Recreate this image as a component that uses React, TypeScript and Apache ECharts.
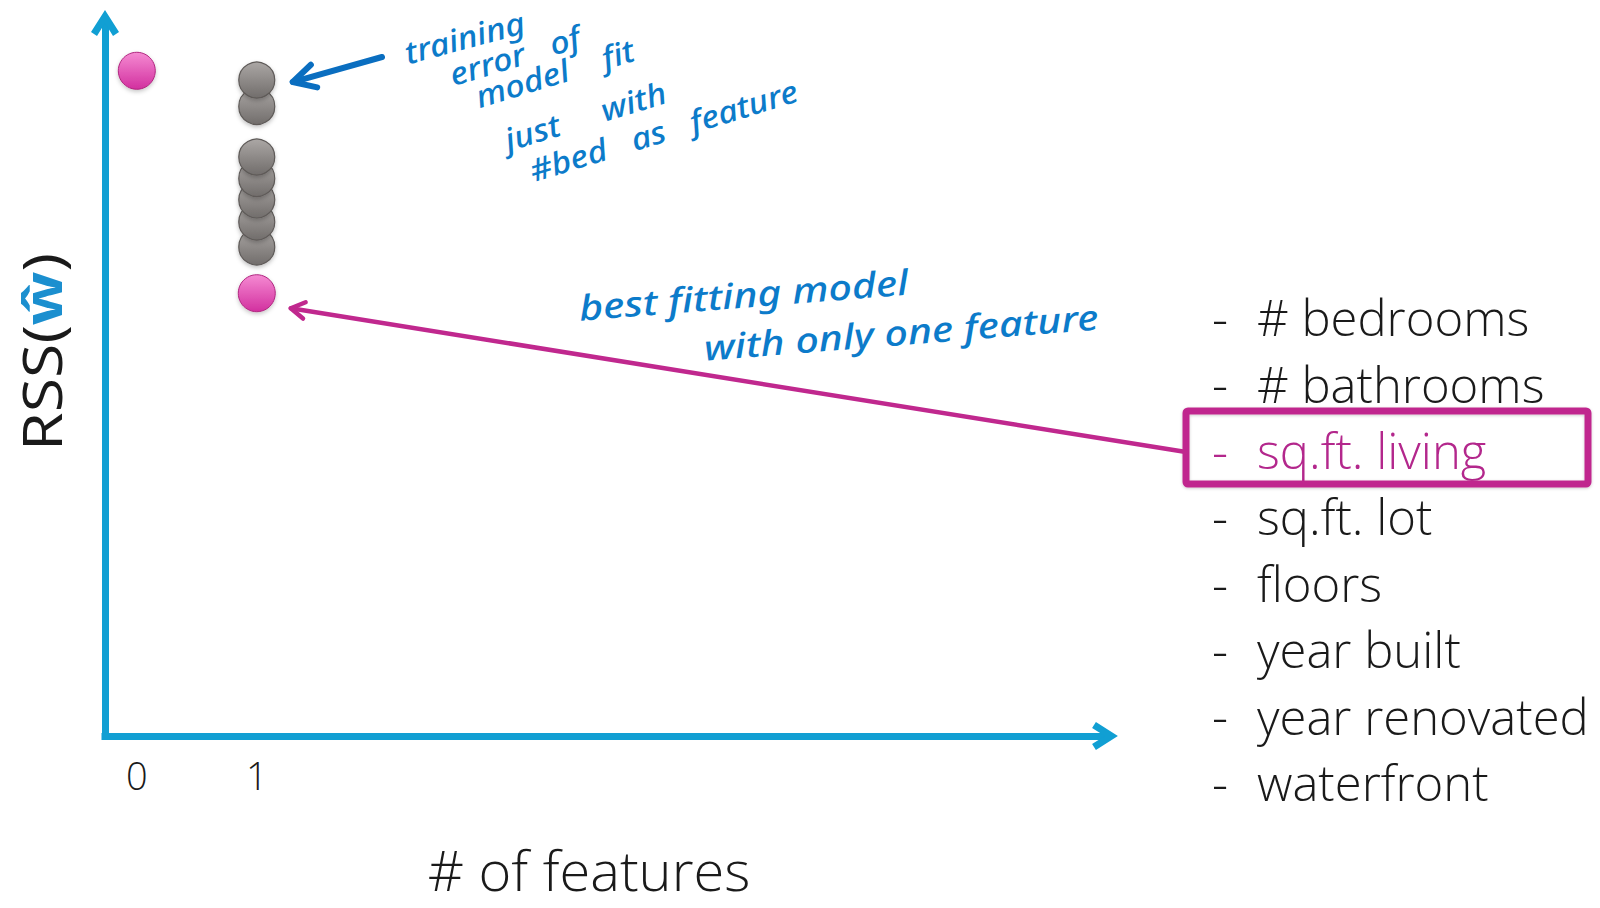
import React, { useEffect, useRef } from 'react';
import * as echarts from 'echarts';

// ---------- data ----------
const featureNames = ['# bedrooms', '# bathrooms', 'sq.ft. living', 'sq.ft. lot', 'floors', 'year built', 'year renovated', 'waterfront'];
const bestFeatureIndex = 2;
const xTickValues = [0, 1];
const xAxisTitle = '# of features';
// RSS (arbitrary units, 0..100) of the model with no feature
const rssNoFeature = [93.3];
// RSS of the one-feature models that are not the best (drawn from low to high)
const rssOneFeatureOthers = [68.6, 72.1, 75.2, 78.2, 81.2, 88.3, 92.0];
// RSS of the best one-feature model
const rssOneFeatureBest = [62.1];
const noteTrainingLines = ['training', 'error   of', 'model    fit', 'just     with', '#bed   as   feature'];
const noteBestLines = ['best fitting model', 'with only one feature'];

// ---------- style ----------
const FONT = '"Open Sans", "Noto Sans", sans-serif';
const HAND = '"Noto Sans", "DejaVu Sans", sans-serif';
const AXIS_COLOR = '#119FD3';
const MAGENTA = '#C0288E';
const MAGENTA_TEXT = '#B3278C';
const HAND_BLUE = '#0C7BCA';
const ARROW_BLUE = '#0A6EC0';
const CHEVRON = 'path://M14 0 L28 22 L22 25.8 L14 13 L6 25.8 L0 22 Z';

const pinkFill = new echarts.graphic.LinearGradient(0, 0, 0, 1, [
  { offset: 0, color: '#F58AD2' },
  { offset: 1, color: '#D2309F' },
]);
const grayFill = new echarts.graphic.LinearGradient(0, 0, 0, 1, [
  { offset: 0, color: '#ABA7A5' },
  { offset: 1, color: '#716D6B' },
]);

function arrowHead(tip: number[], tail: number[], len: number, halfDeg: number) {
  const ang = Math.atan2(tail[1] - tip[1], tail[0] - tip[0]);
  const a = (halfDeg * Math.PI) / 180;
  return [
    [tip[0] + len * Math.cos(ang - a), tip[1] + len * Math.sin(ang - a)],
    [tip[0], tip[1]],
    [tip[0] + len * Math.cos(ang + a), tip[1] + len * Math.sin(ang + a)],
  ];
}

function txt(text: string, x: number, y: number, extra: any = {}, style: any = {}) {
  const align = style.align || 'left';
  const vAlign = style.verticalAlign || 'middle';
  return {
    type: 'text',
    x,
    y,
    ...extra,
    style: {
      text,
      align,
      verticalAlign: vAlign,
      textAlign: align,
      textVerticalAlign: vAlign,
      ...style,
    },
  };
}

export default function App() {
  const ref = useRef<HTMLDivElement>(null);

  useEffect(() => {
    if (!ref.current) return;
    const chart = echarts.init(ref.current, null, { renderer: 'svg' });

    const axisLineBase = {
      show: true,
      onZero: false,
      symbol: ['none', CHEVRON],
      symbolSize: [28, 26],
      lineStyle: { color: AXIS_COLOR, width: 7, cap: 'square' },
    };

    chart.setOption({
      animation: false,
      backgroundColor: '#ffffff',
      textStyle: { fontFamily: FONT },
      grid: { left: 105, right: 495, top: 23, bottom: 172, outerBoundsMode: 'none', containLabel: false },
      xAxis: {
        type: 'value',
        min: -0.265,
        max: 8.07,
        axisLine: axisLineBase,
        axisTick: { show: false },
        splitLine: { show: false },
        axisLabel: {
          show: true,
          customValues: xTickValues,
          margin: 20,
          fontSize: 38,
          fontWeight: 300,
          fontFamily: FONT,
          color: '#1a1a1a',
        },
      },
      yAxis: {
        type: 'value',
        min: 0,
        max: 100,
        axisLine: axisLineBase,
        axisTick: { show: false },
        splitLine: { show: false },
        axisLabel: { show: false },
      },
      series: [
        {
          type: 'scatter',
          name: 'other one-feature models',
          symbol: 'circle',
          symbolSize: 36,
          itemStyle: {
            color: grayFill,
            borderColor: '#5E5A58',
            borderWidth: 1.2,
            shadowBlur: 4,
            shadowOffsetY: 2,
            shadowColor: 'rgba(0,0,0,0.25)',
            opacity: 1,
          },
          data: rssOneFeatureOthers.map((v) => [1, v]),
        },
        {
          type: 'scatter',
          name: 'no feature / best one-feature model',
          symbol: 'circle',
          symbolSize: 37,
          itemStyle: {
            color: pinkFill,
            borderColor: '#B0267F',
            borderWidth: 1,
            shadowBlur: 4,
            shadowOffsetY: 2,
            shadowColor: 'rgba(0,0,0,0.22)',
            opacity: 1,
          },
          data: [...rssNoFeature.map((v) => [0, v]), ...rssOneFeatureBest.map((v) => [1, v])],
        },
      ],
    });

    // positions of data points, through the chart's own scales
    const topGray = chart.convertToPixel({ gridIndex: 0 }, [1, Math.max(...rssOneFeatureOthers)]) as number[];
    const bestPt = chart.convertToPixel({ gridIndex: 0 }, [1, rssOneFeatureBest[0]]) as number[];

    const blueTip = [topGray[0] + 36, topGray[1] + 2];
    const blueTail = [382, 57];
    const magTip = [bestPt[0] + 34, bestPt[1] + 15];
    const magTail = [1186, 452];

    const graphics: any[] = [];

    // y axis title
    graphics.push({
      type: 'text',
      x: 41,
      y: 352,
      rotation: Math.PI / 2,
      scaleX: 1.16,
      style: {
        text: '{a|RSS(}{b|ŵ}{a|)}',
        align: 'center',
        verticalAlign: 'middle',
        textAlign: 'center',
        textVerticalAlign: 'middle',
        rich: {
          a: { fontSize: 54, fontFamily: FONT, fontWeight: 400, fill: '#1a1a1a', color: '#1a1a1a' },
          b: { fontSize: 54, fontFamily: FONT, fontWeight: 700, fill: '#1B8FCF', color: '#1B8FCF' },
        },
      },
    });

    // x axis title
    graphics.push(
      txt(xAxisTitle, 589, 869, { scaleX: 1.0 }, { align: 'center', fontSize: 56, fontFamily: FONT, fontWeight: 300, fill: '#1a1a1a' })
    );

    // feature list
    const listTop = 317;
    const listStep = 66.4;
    featureNames.forEach((name, i) => {
      const y = listTop + i * listStep;
      const color = i === bestFeatureIndex ? MAGENTA_TEXT : '#1a1a1a';
      graphics.push(txt('-', 1220, y, {}, { align: 'center', fontSize: 50, fontFamily: FONT, fontWeight: 300, fill: color }));
      graphics.push(txt(name, 1257, y, { scaleX: 0.98 }, { fontSize: 50, fontFamily: FONT, fontWeight: 300, fill: color }));
    });

    // highlight box
    graphics.push({
      type: 'rect',
      shape: { x: 1186, y: 411, width: 402, height: 73, r: 2 },
      style: {
        fill: 'none',
        stroke: MAGENTA,
        lineWidth: 7,
        shadowBlur: 3,
        shadowOffsetY: 1,
        shadowColor: 'rgba(0,0,0,0.2)',
      },
    });

    // magenta arrow
    graphics.push({
      type: 'line',
      shape: { x1: magTail[0], y1: magTail[1], x2: magTip[0], y2: magTip[1] },
      style: { stroke: MAGENTA, lineWidth: 4.5, lineCap: 'round' },
    });
    graphics.push({
      type: 'polyline',
      shape: { points: arrowHead(magTip, magTail, 16, 31) },
      style: { stroke: MAGENTA, lineWidth: 4.5, lineCap: 'round', lineJoin: 'round', fill: 'none' },
    });

    // blue arrow
    graphics.push({
      type: 'line',
      shape: { x1: blueTail[0], y1: blueTail[1], x2: blueTip[0], y2: blueTip[1] },
      style: { stroke: ARROW_BLUE, lineWidth: 6, lineCap: 'round' },
    });
    graphics.push({
      type: 'polyline',
      shape: { points: arrowHead(blueTip, blueTail, 25, 28) },
      style: { stroke: ARROW_BLUE, lineWidth: 6, lineCap: 'round', lineJoin: 'round', fill: 'none' },
    });

    // handwritten note 1
    const note1Pos = [
      [405, 53],
      [450, 75],
      [476, 97],
      [505, 140],
      [530, 171],
    ];
    const note1Rot = [15, 17, 17, 17, 17];
    noteTrainingLines.forEach((line, i) => {
      graphics.push(
        txt(line, note1Pos[i][0], note1Pos[i][1], { rotation: (note1Rot[i] * Math.PI) / 180, scaleX: 1.1 }, {
          fontSize: 31,
          fontFamily: HAND,
          fontStyle: 'italic',
          fontWeight: 500,
          fill: HAND_BLUE,
        })
      );
    });

    // handwritten note 2
    const note2Pos = [
      [579, 307],
      [704, 347],
    ];
    const rot2 = (4.5 * Math.PI) / 180;
    noteBestLines.forEach((line, i) => {
      graphics.push(
        txt(line, note2Pos[i][0], note2Pos[i][1], { rotation: rot2, scaleX: 1.18 }, {
          fontSize: 35,
          fontFamily: HAND,
          fontStyle: 'italic',
          fontWeight: 500,
          fill: HAND_BLUE,
        })
      );
    });

    chart.setOption({ graphic: { elements: graphics } });

    return () => {
      chart.dispose();
    };
  }, []);

  return (
    <div
      ref={ref}
      style={{ position: 'fixed', left: 0, top: 0, width: 1600, height: 908, background: '#ffffff' }}
    />
  );
}
